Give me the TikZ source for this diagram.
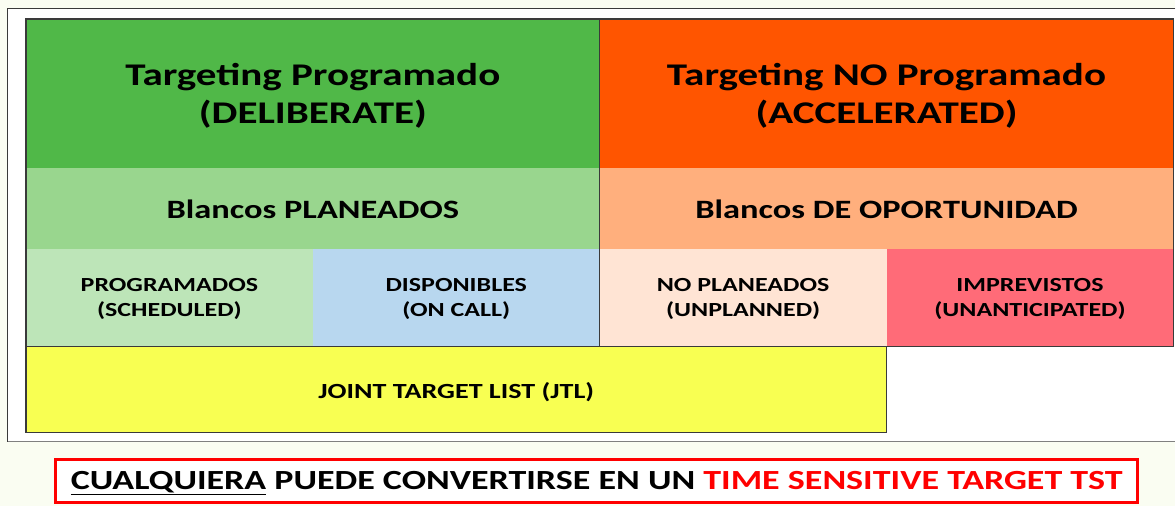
\documentclass[tikz,border=0pt]{standalone}
\usepackage{fontspec}
\setmainfont{Carlito}[FakeStretch=1.3]
\usetikzlibrary{positioning}

\definecolor{bgcream}{HTML}{FAFDF2}
\definecolor{dkgreen}{HTML}{50B848}
\definecolor{orng}{HTML}{FF5500}
\definecolor{ltgreen}{HTML}{99D68E}
\definecolor{ltorng}{HTML}{FFAF7D}
\definecolor{palegreen}{HTML}{BDE5B8}
\definecolor{ltblue}{HTML}{B8D7EF}
\definecolor{peach}{HTML}{FFE4D4}
\definecolor{pinkred}{HTML}{FF6B78}
\definecolor{jtlyellow}{HTML}{F8FF52}
\definecolor{edge}{HTML}{3A3A3A}

\begin{document}
\begin{tikzpicture}[x=1pt,y=-1pt,
        cell/.style = {
            inner sep=0pt,
            outer sep=0pt,
            align=center
        },
        head/.style = {cell, minimum width=574pt, minimum height=149pt, text depth=-2pt,
            font=\fontsize{31.6}{38}\selectfont\bfseries},
        sub/.style = {cell, minimum width=574pt, minimum height=81pt,
            text height=21pt, text depth=1.4pt,
            font=\fontsize{26.5}{30}\selectfont\bfseries},
        kind/.style = {cell, minimum width=287pt, minimum height=98pt, text depth=-4pt,
            font=\fontsize{20}{25}\selectfont\bfseries}]

        \fill[bgcream] (0,0) rectangle (1176,506);
        \fill[white] (8,9) rectangle (1176,442);
        \draw[edge, line width=1pt] (1176,9) -- (8,9) -- (8,442);
        \draw[gray, line width=1.2pt] (8,442) -- (1176,442);

        \node[head, fill=dkgreen, anchor=north west] (tp) at (26,19) {Targeting Programado\\(DELIBERATE)};
        \node[head, fill=orng, right=0pt of tp] (tnp) {Targeting NO Programado\\(ACCELERATED)};
        \node[sub, fill=ltgreen, below=0pt of tp] (bp) {Blancos PLANEADOS};
        \node[sub, fill=ltorng, below=0pt of tnp] (bo) {Blancos DE OPORTUNIDAD};
        \node[kind, fill=palegreen, below right=0pt and 0pt of bp.south west] (sch) {PROGRAMADOS\\(SCHEDULED)};
        \node[kind, fill=ltblue, right=0pt of sch] (onc) {DISPONIBLES\\(ON CALL)};
        \node[kind, fill=peach, right=0pt of onc] (unp) {NO PLANEADOS\\(UNPLANNED)};
        \node[kind, fill=pinkred, right=0pt of unp] (una) {IMPREVISTOS\\(UNANTICIPATED)};
        \node[cell, fill=jtlyellow, minimum width=861pt, minimum height=86pt,
            text height=18pt, text depth=1.4pt,
            font=\fontsize{21.6}{25}\selectfont\bfseries,
            below right=0pt and 0pt of sch.south west] (jtl) {JOINT TARGET LIST (JTL)};

        % contornos
        \draw[edge, line width=1.2pt] (tp.north west) -- (tnp.north east) -- (una.south east)
            -- (una.south west) -- (jtl.south east) -- (jtl.south west) -- cycle;
        \draw[edge, line width=1.2pt] (tp.north east) -- (onc.south east);
        \draw[edge, line width=1.2pt] (jtl.north west) -- (jtl.north east);

        \node[draw=red, line width=3pt, fill=white, minimum width=1082pt, minimum height=43pt,
            inner sep=0pt, text height=20pt, text depth=2pt,
            font=\fontsize{27.7}{30}\selectfont\bfseries] (tst) at (597,481)
            {\underline{CUALQUIERA} PUEDE CONVERTIRSE EN UN \textcolor{red}{TIME SENSITIVE TARGET TST}};
    \end{tikzpicture}
\end{document}
